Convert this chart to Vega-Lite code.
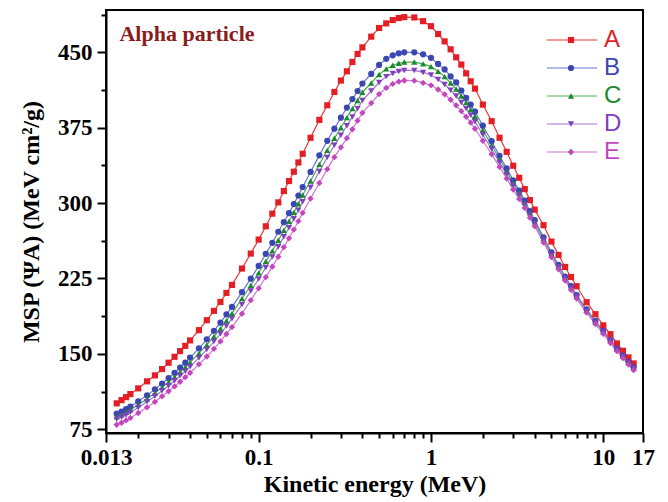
{
"$schema": "https://vega.github.io/schema/vega-lite/v6.json",
"width": 537, "height": 423,
"autosize": {"type": "none"},
"padding": {"left": 106, "top": 10, "right": 25, "bottom": 69},
"background": "white",
"config": {"view": {"stroke": "black", "strokeWidth": 2}, "font": "Liberation Serif",
  "axis": {
      "tickWidth": 2, "tickColor": "black", "domainColor": "black", "domainWidth": 2,
      "labelFont": "Liberation Serif", "labelFontWeight": "bold", "labelFontSize": 23, "labelColor": "black",
      "labelOverlap": false, "labelFlush": false, "grid": false,
      "titleFont": "Liberation Serif", "titleFontSize": 24, "titleFontWeight": "bold", "titleColor": "black"
  }
},
"layer": [
{
"data": {"values": [
{"s":"A","e":0.015,"v":100.8},{"s":"A","e":0.016,"v":104},{"s":"A","e":0.017,"v":107},{"s":"A","e":0.018,"v":110},{"s":"A","e":0.02,"v":115.7},{"s":"A","e":0.0225,"v":122.7},{"s":"A","e":0.025,"v":128.6},{"s":"A","e":0.0275,"v":134.9},{"s":"A","e":0.03,"v":141.2},{"s":"A","e":0.0325,"v":147.1},{"s":"A","e":0.035,"v":152.8},{"s":"A","e":0.0375,"v":158},{"s":"A","e":0.04,"v":163.4},{"s":"A","e":0.045,"v":173.6},{"s":"A","e":0.05,"v":183.5},{"s":"A","e":0.055,"v":192.8},{"s":"A","e":0.06,"v":201.7},{"s":"A","e":0.065,"v":210.6},{"s":"A","e":0.07,"v":218.6},{"s":"A","e":0.08,"v":234.9},{"s":"A","e":0.09,"v":249.8},{"s":"A","e":0.1,"v":263.7},{"s":"A","e":0.11,"v":276.9},{"s":"A","e":0.12,"v":289.5},{"s":"A","e":0.13,"v":300.7},{"s":"A","e":0.14,"v":312},{"s":"A","e":0.15,"v":321.9},{"s":"A","e":0.16,"v":331.2},{"s":"A","e":0.17,"v":340.4},{"s":"A","e":0.18,"v":349.1},{"s":"A","e":0.2,"v":365},{"s":"A","e":0.225,"v":382.8},{"s":"A","e":0.25,"v":397.3},{"s":"A","e":0.275,"v":410.6},{"s":"A","e":0.3,"v":421.9},{"s":"A","e":0.325,"v":431.1},{"s":"A","e":0.35,"v":440.4},{"s":"A","e":0.375,"v":448.4},{"s":"A","e":0.4,"v":454.9},{"s":"A","e":0.45,"v":465.6},{"s":"A","e":0.5,"v":474.2},{"s":"A","e":0.55,"v":478.8},{"s":"A","e":0.6,"v":482.1},{"s":"A","e":0.65,"v":484.1},{"s":"A","e":0.7,"v":485},{"s":"A","e":0.8,"v":484.7},{"s":"A","e":0.9,"v":481},{"s":"A","e":1,"v":476},{"s":"A","e":1.1,"v":468.2},{"s":"A","e":1.2,"v":460.9},{"s":"A","e":1.3,"v":453},{"s":"A","e":1.4,"v":445},{"s":"A","e":1.5,"v":437.8},{"s":"A","e":1.6,"v":429.1},{"s":"A","e":1.7,"v":421.2},{"s":"A","e":1.8,"v":413.9},{"s":"A","e":2,"v":398},{"s":"A","e":2.25,"v":381.5},{"s":"A","e":2.5,"v":365},{"s":"A","e":2.75,"v":351},{"s":"A","e":3,"v":337.2},{"s":"A","e":3.25,"v":325.2},{"s":"A","e":3.5,"v":313.9},{"s":"A","e":3.75,"v":303},{"s":"A","e":4,"v":293.5},{"s":"A","e":4.5,"v":278},{"s":"A","e":5,"v":261.7},{"s":"A","e":5.5,"v":248.4},{"s":"A","e":6,"v":236.5},{"s":"A","e":6.5,"v":226.5},{"s":"A","e":7,"v":217.3},{"s":"A","e":8,"v":201.4},{"s":"A","e":9,"v":189.5},{"s":"A","e":10,"v":178.3},{"s":"A","e":11,"v":169.6},{"s":"A","e":12,"v":160.4},{"s":"A","e":13,"v":153.1},{"s":"A","e":14,"v":146.5},{"s":"A","e":15,"v":140.5},
{"s":"B","e":0.015,"v":90.5},{"s":"B","e":0.016,"v":92.5},{"s":"B","e":0.017,"v":95},{"s":"B","e":0.018,"v":97.5},{"s":"B","e":0.02,"v":102.8},{"s":"B","e":0.0225,"v":108.8},{"s":"B","e":0.025,"v":114.7},{"s":"B","e":0.0275,"v":120.5},{"s":"B","e":0.03,"v":125.9},{"s":"B","e":0.0325,"v":131.2},{"s":"B","e":0.035,"v":136.4},{"s":"B","e":0.0375,"v":141.3},{"s":"B","e":0.04,"v":146.3},{"s":"B","e":0.045,"v":155.5},{"s":"B","e":0.05,"v":164.5},{"s":"B","e":0.055,"v":173},{"s":"B","e":0.06,"v":181},{"s":"B","e":0.065,"v":189.3},{"s":"B","e":0.07,"v":196.7},{"s":"B","e":0.08,"v":211.4},{"s":"B","e":0.09,"v":224.8},{"s":"B","e":0.1,"v":237.5},{"s":"B","e":0.11,"v":249.5},{"s":"B","e":0.12,"v":260.5},{"s":"B","e":0.13,"v":271.5},{"s":"B","e":0.14,"v":281},{"s":"B","e":0.15,"v":290},{"s":"B","e":0.16,"v":299},{"s":"B","e":0.17,"v":307.5},{"s":"B","e":0.18,"v":316},{"s":"B","e":0.2,"v":331},{"s":"B","e":0.225,"v":347.5},{"s":"B","e":0.25,"v":362},{"s":"B","e":0.275,"v":374},{"s":"B","e":0.3,"v":385},{"s":"B","e":0.325,"v":395},{"s":"B","e":0.35,"v":403.5},{"s":"B","e":0.375,"v":411.5},{"s":"B","e":0.4,"v":419},{"s":"B","e":0.45,"v":428.5},{"s":"B","e":0.5,"v":437.5},{"s":"B","e":0.55,"v":443.5},{"s":"B","e":0.6,"v":447},{"s":"B","e":0.65,"v":449},{"s":"B","e":0.7,"v":450},{"s":"B","e":0.8,"v":450},{"s":"B","e":0.9,"v":448},{"s":"B","e":1,"v":444.5},{"s":"B","e":1.1,"v":438.5},{"s":"B","e":1.2,"v":433},{"s":"B","e":1.3,"v":426},{"s":"B","e":1.4,"v":420},{"s":"B","e":1.5,"v":412},{"s":"B","e":1.6,"v":404.7},{"s":"B","e":1.7,"v":398},{"s":"B","e":1.8,"v":391},{"s":"B","e":2,"v":377},{"s":"B","e":2.25,"v":361.6},{"s":"B","e":2.5,"v":347},{"s":"B","e":2.75,"v":334.5},{"s":"B","e":3,"v":322.6},{"s":"B","e":3.25,"v":312.5},{"s":"B","e":3.5,"v":302.5},{"s":"B","e":3.75,"v":292},{"s":"B","e":4,"v":283},{"s":"B","e":4.5,"v":266},{"s":"B","e":5,"v":251},{"s":"B","e":5.5,"v":238.5},{"s":"B","e":6,"v":227},{"s":"B","e":6.5,"v":217.5},{"s":"B","e":7,"v":208.5},{"s":"B","e":8,"v":194.2},{"s":"B","e":9,"v":182.8},{"s":"B","e":10,"v":172.9},{"s":"B","e":11,"v":163.7},{"s":"B","e":12,"v":155.4},{"s":"B","e":13,"v":148.5},{"s":"B","e":14,"v":142.1},{"s":"B","e":15,"v":136.6},
{"s":"C","e":0.015,"v":87.5},{"s":"C","e":0.016,"v":89.5},{"s":"C","e":0.017,"v":92},{"s":"C","e":0.018,"v":94.5},{"s":"C","e":0.02,"v":99.5},{"s":"C","e":0.0225,"v":105.3},{"s":"C","e":0.025,"v":111},{"s":"C","e":0.0275,"v":116.7},{"s":"C","e":0.03,"v":121.8},{"s":"C","e":0.0325,"v":127},{"s":"C","e":0.035,"v":132},{"s":"C","e":0.0375,"v":136.8},{"s":"C","e":0.04,"v":141.5},{"s":"C","e":0.045,"v":150.5},{"s":"C","e":0.05,"v":159},{"s":"C","e":0.055,"v":167.3},{"s":"C","e":0.06,"v":175},{"s":"C","e":0.065,"v":183},{"s":"C","e":0.07,"v":190.3},{"s":"C","e":0.08,"v":205},{"s":"C","e":0.09,"v":218.3},{"s":"C","e":0.1,"v":230.6},{"s":"C","e":0.11,"v":242},{"s":"C","e":0.12,"v":252.5},{"s":"C","e":0.13,"v":263},{"s":"C","e":0.14,"v":272.9},{"s":"C","e":0.15,"v":282},{"s":"C","e":0.16,"v":290.8},{"s":"C","e":0.17,"v":299.4},{"s":"C","e":0.18,"v":308},{"s":"C","e":0.2,"v":322},{"s":"C","e":0.225,"v":338.5},{"s":"C","e":0.25,"v":352.5},{"s":"C","e":0.275,"v":364.5},{"s":"C","e":0.3,"v":375},{"s":"C","e":0.325,"v":385},{"s":"C","e":0.35,"v":394},{"s":"C","e":0.375,"v":402},{"s":"C","e":0.4,"v":410.3},{"s":"C","e":0.45,"v":419.5},{"s":"C","e":0.5,"v":428},{"s":"C","e":0.55,"v":433.5},{"s":"C","e":0.6,"v":437.1},{"s":"C","e":0.65,"v":439.1},{"s":"C","e":0.7,"v":440.3},{"s":"C","e":0.8,"v":440.3},{"s":"C","e":0.9,"v":438.5},{"s":"C","e":1,"v":435.8},{"s":"C","e":1.1,"v":431},{"s":"C","e":1.2,"v":425.8},{"s":"C","e":1.3,"v":419.5},{"s":"C","e":1.4,"v":413.5},{"s":"C","e":1.5,"v":406.5},{"s":"C","e":1.6,"v":400},{"s":"C","e":1.7,"v":393},{"s":"C","e":1.8,"v":386.3},{"s":"C","e":2,"v":372.5},{"s":"C","e":2.25,"v":357.6},{"s":"C","e":2.5,"v":343.8},{"s":"C","e":2.75,"v":331.5},{"s":"C","e":3,"v":320},{"s":"C","e":3.25,"v":310.2},{"s":"C","e":3.5,"v":300.5},{"s":"C","e":3.75,"v":290.3},{"s":"C","e":4,"v":281.5},{"s":"C","e":4.5,"v":264.8},{"s":"C","e":5,"v":249.8},{"s":"C","e":5.5,"v":237.5},{"s":"C","e":6,"v":226.1},{"s":"C","e":6.5,"v":216.5},{"s":"C","e":7,"v":207.7},{"s":"C","e":8,"v":193.5},{"s":"C","e":9,"v":182.2},{"s":"C","e":10,"v":172.3},{"s":"C","e":11,"v":163.2},{"s":"C","e":12,"v":155},{"s":"C","e":13,"v":148},{"s":"C","e":14,"v":141.7},{"s":"C","e":15,"v":136.2},
{"s":"D","e":0.015,"v":85},{"s":"D","e":0.016,"v":87},{"s":"D","e":0.017,"v":89.3},{"s":"D","e":0.018,"v":91.8},{"s":"D","e":0.02,"v":96.7},{"s":"D","e":0.0225,"v":102.3},{"s":"D","e":0.025,"v":107.8},{"s":"D","e":0.0275,"v":113.3},{"s":"D","e":0.03,"v":118.3},{"s":"D","e":0.0325,"v":123.3},{"s":"D","e":0.035,"v":128.2},{"s":"D","e":0.0375,"v":132.8},{"s":"D","e":0.04,"v":137.3},{"s":"D","e":0.045,"v":146},{"s":"D","e":0.05,"v":154.3},{"s":"D","e":0.055,"v":162.3},{"s":"D","e":0.06,"v":170},{"s":"D","e":0.065,"v":177.8},{"s":"D","e":0.07,"v":185},{"s":"D","e":0.08,"v":199},{"s":"D","e":0.09,"v":212.6},{"s":"D","e":0.1,"v":224.5},{"s":"D","e":0.11,"v":236},{"s":"D","e":0.12,"v":246.5},{"s":"D","e":0.13,"v":256.5},{"s":"D","e":0.14,"v":266.5},{"s":"D","e":0.15,"v":275.5},{"s":"D","e":0.16,"v":284.5},{"s":"D","e":0.17,"v":293},{"s":"D","e":0.18,"v":301.3},{"s":"D","e":0.2,"v":315.5},{"s":"D","e":0.225,"v":331.5},{"s":"D","e":0.25,"v":345.5},{"s":"D","e":0.275,"v":357.5},{"s":"D","e":0.3,"v":367.5},{"s":"D","e":0.325,"v":377},{"s":"D","e":0.35,"v":385.8},{"s":"D","e":0.375,"v":394},{"s":"D","e":0.4,"v":402},{"s":"D","e":0.45,"v":411.5},{"s":"D","e":0.5,"v":420},{"s":"D","e":0.55,"v":425.8},{"s":"D","e":0.6,"v":429},{"s":"D","e":0.65,"v":431},{"s":"D","e":0.7,"v":432},{"s":"D","e":0.8,"v":432},{"s":"D","e":0.9,"v":430},{"s":"D","e":1,"v":427.5},{"s":"D","e":1.1,"v":423},{"s":"D","e":1.2,"v":418},{"s":"D","e":1.3,"v":412.3},{"s":"D","e":1.4,"v":406.5},{"s":"D","e":1.5,"v":400},{"s":"D","e":1.6,"v":394},{"s":"D","e":1.7,"v":387.5},{"s":"D","e":1.8,"v":381},{"s":"D","e":2,"v":368},{"s":"D","e":2.25,"v":353.8},{"s":"D","e":2.5,"v":340.5},{"s":"D","e":2.75,"v":328.5},{"s":"D","e":3,"v":317.3},{"s":"D","e":3.25,"v":307.7},{"s":"D","e":3.5,"v":298.3},{"s":"D","e":3.75,"v":288.3},{"s":"D","e":4,"v":279.7},{"s":"D","e":4.5,"v":263.3},{"s":"D","e":5,"v":248.6},{"s":"D","e":5.5,"v":236.4},{"s":"D","e":6,"v":225.2},{"s":"D","e":6.5,"v":215.7},{"s":"D","e":7,"v":207},{"s":"D","e":8,"v":192.9},{"s":"D","e":9,"v":181.6},{"s":"D","e":10,"v":171.8},{"s":"D","e":11,"v":162.7},{"s":"D","e":12,"v":154.6},{"s":"D","e":13,"v":147.6},{"s":"D","e":14,"v":141.3},{"s":"D","e":15,"v":135.8},
{"s":"E","e":0.015,"v":79.5},{"s":"E","e":0.016,"v":81.5},{"s":"E","e":0.017,"v":83.8},{"s":"E","e":0.018,"v":86.3},{"s":"E","e":0.02,"v":91.2},{"s":"E","e":0.0225,"v":96.8},{"s":"E","e":0.025,"v":102.3},{"s":"E","e":0.0275,"v":107.8},{"s":"E","e":0.03,"v":112.8},{"s":"E","e":0.0325,"v":117.6},{"s":"E","e":0.035,"v":122.3},{"s":"E","e":0.0375,"v":126.8},{"s":"E","e":0.04,"v":131.2},{"s":"E","e":0.045,"v":139.6},{"s":"E","e":0.05,"v":147.4},{"s":"E","e":0.055,"v":155},{"s":"E","e":0.06,"v":162.4},{"s":"E","e":0.065,"v":169.8},{"s":"E","e":0.07,"v":176.7},{"s":"E","e":0.08,"v":190},{"s":"E","e":0.09,"v":203.4},{"s":"E","e":0.1,"v":215.3},{"s":"E","e":0.11,"v":226.3},{"s":"E","e":0.12,"v":236.8},{"s":"E","e":0.13,"v":246.6},{"s":"E","e":0.14,"v":256.2},{"s":"E","e":0.15,"v":265},{"s":"E","e":0.16,"v":273.7},{"s":"E","e":0.17,"v":282},{"s":"E","e":0.18,"v":290.3},{"s":"E","e":0.2,"v":304.5},{"s":"E","e":0.225,"v":320},{"s":"E","e":0.25,"v":333.8},{"s":"E","e":0.275,"v":345.7},{"s":"E","e":0.3,"v":355.5},{"s":"E","e":0.325,"v":364.6},{"s":"E","e":0.35,"v":373.5},{"s":"E","e":0.375,"v":382},{"s":"E","e":0.4,"v":389.8},{"s":"E","e":0.45,"v":399.5},{"s":"E","e":0.5,"v":408.5},{"s":"E","e":0.55,"v":414.6},{"s":"E","e":0.6,"v":418.6},{"s":"E","e":0.65,"v":420.8},{"s":"E","e":0.7,"v":422},{"s":"E","e":0.8,"v":421.8},{"s":"E","e":0.9,"v":419.6},{"s":"E","e":1,"v":417.2},{"s":"E","e":1.1,"v":413},{"s":"E","e":1.2,"v":408.2},{"s":"E","e":1.3,"v":402.8},{"s":"E","e":1.4,"v":397.3},{"s":"E","e":1.5,"v":391.5},{"s":"E","e":1.6,"v":385.8},{"s":"E","e":1.7,"v":380},{"s":"E","e":1.8,"v":374},{"s":"E","e":2,"v":362},{"s":"E","e":2.25,"v":348.6},{"s":"E","e":2.5,"v":336},{"s":"E","e":2.75,"v":324.4},{"s":"E","e":3,"v":313.5},{"s":"E","e":3.25,"v":304.2},{"s":"E","e":3.5,"v":295.2},{"s":"E","e":3.75,"v":285.5},{"s":"E","e":4,"v":277},{"s":"E","e":4.5,"v":260.8},{"s":"E","e":5,"v":246.2},{"s":"E","e":5.5,"v":234.1},{"s":"E","e":6,"v":223},{"s":"E","e":6.5,"v":213.6},{"s":"E","e":7,"v":205},{"s":"E","e":8,"v":191},{"s":"E","e":9,"v":179.7},{"s":"E","e":10,"v":169.9},{"s":"E","e":11,"v":160.8},{"s":"E","e":12,"v":152.7},{"s":"E","e":13,"v":145.7},{"s":"E","e":14,"v":139.4},{"s":"E","e":15,"v":133.8}
]},
"encoding": {
  "x": {"field": "e", "type": "quantitative",
    "scale": {"type": "log", "domain": [0.013, 17], "nice": false},
    "axis": {"title": "Kinetic energy (MeV)",
      "values": [0.013,0.02,0.03,0.04,0.05,0.06,0.07,0.08,0.09,0.1,0.2,0.3,0.4,0.5,0.6,0.7,0.8,0.9,1,2,3,4,5,6,7,8,9,10,17],
      "format": "~g",
      "labelExpr": "indexof([0.013,0.1,1,10,17], datum.value) >= 0 ? datum.label : ''",
      "tickSize": {"condition": {"test": "indexof([0.013,0.1,1,10,17], datum.value) >= 0", "value": 9}, "value": 5},
      "labelPadding": 4, "titlePadding": 3}},
  "y": {"field": "v", "type": "quantitative",
    "scale": {"domain": [71.3, 492.1], "nice": false, "zero": false},
    "axis": {"title": "MSP (ΨA) (MeV cm²/g)",
      "values": [75,112.5,150,187.5,225,262.5,300,337.5,375,412.5,450,487.5],
      "format": "d",
      "labelExpr": "datum.value % 75 == 0 ? datum.label : ''",
      "tickSize": {"condition": {"test": "datum.value % 75 == 0", "value": 9}, "value": 5},
      "labelPadding": 5, "titlePadding": 14}}
},
"layer": [
  {"mark": {"type": "line", "strokeWidth": 1.2},
   "encoding": {"color": {"field": "s", "type": "nominal",
     "scale": {"domain": ["A","B","C","D","E"], "range": ["#e8383a","#6b74cf","#4aae52","#a274d6","#d174cf"]},
     "legend": {"orient": "none", "legendX": 454, "legendY": 18, "title": null, "symbolType": "M-5,0H5", "symbolSize": 100, "symbolStrokeWidth": 1.2, "labelOpacity": 0, "labelFont": "Liberation Sans", "labelFontSize": 24, "rowPadding": 4, "padding": 0}}}},
  {"mark": {"type": "point", "filled": true, "opacity": 1},
   "encoding": {
     "size": {"field": "s", "type": "nominal", "scale": {"domain": ["A","B","C","D","E"], "range": [38, 40, 55, 55, 50]}, "legend": null},
     "color": {"field": "s", "type": "nominal",
       "scale": {"domain": ["A","B","C","D","E"], "range": ["#e31e24","#3b46b4","#1b8a2d","#7f3fbf","#c246be"]},
       "legend": {"orient": "none", "legendX": 453, "legendY": 18, "title": null, "symbolSize": 45, "labelFont": "Liberation Sans", "labelFontSize": 24, "rowPadding": 4, "padding": 0, "labelOffset": 21,
         "labelColor": {"expr": "datum.value === 'A' ? '#e31e24' : datum.value === 'B' ? '#3b46b4' : datum.value === 'C' ? '#1b8a2d' : datum.value === 'D' ? '#7f3fbf' : '#c246be'"}}},
     "shape": {"field": "s", "type": "nominal",
       "scale": {"domain": ["A","B","C","D","E"], "range": ["square","circle","triangle-up","triangle-down","diamond"]},
       "legend": {"orient": "none", "legendX": 453, "legendY": 18, "title": null, "symbolSize": 45, "labelFont": "Liberation Sans", "labelFontSize": 24, "rowPadding": 4, "padding": 0, "labelOffset": 21,
         "labelColor": {"expr": "datum.value === 'A' ? '#e31e24' : datum.value === 'B' ? '#3b46b4' : datum.value === 'C' ? '#1b8a2d' : datum.value === 'D' ? '#7f3fbf' : '#c246be'"}}}
   }}
],
"resolve": {"scale": {"color": "independent", "shape": "independent", "size": "independent"}, "legend": {"color": "independent", "shape": "independent"}}
},
{"data": {"values": [{"t": "Alpha particle"}]},
 "mark": {"type": "text", "align": "left", "baseline": "alphabetic", "font": "Liberation Serif", "fontWeight": "bold", "fontSize": 22, "fill": "#8b1c1c"},
 "encoding": {
   "x": {"datum": 0.01556, "type": "quantitative", "scale": {"type": "log", "domain": [0.013, 17], "nice": false},
    "axis": {"title": "Kinetic energy (MeV)",
      "values": [0.013,0.02,0.03,0.04,0.05,0.06,0.07,0.08,0.09,0.1,0.2,0.3,0.4,0.5,0.6,0.7,0.8,0.9,1,2,3,4,5,6,7,8,9,10,17],
      "format": "~g",
      "labelExpr": "indexof([0.013,0.1,1,10,17], datum.value) >= 0 ? datum.label : ''",
      "tickSize": {"condition": {"test": "indexof([0.013,0.1,1,10,17], datum.value) >= 0", "value": 9}, "value": 5},
      "labelPadding": 4, "titlePadding": 3}},
   "y": {"datum": 461, "type": "quantitative", "scale": {"domain": [71.3, 492.1], "nice": false, "zero": false},
    "axis": {"title": "MSP (ΨA) (MeV cm²/g)",
      "values": [75,112.5,150,187.5,225,262.5,300,337.5,375,412.5,450,487.5],
      "format": "d",
      "labelExpr": "datum.value % 75 == 0 ? datum.label : ''",
      "tickSize": {"condition": {"test": "datum.value % 75 == 0", "value": 9}, "value": 5},
      "labelPadding": 5, "titlePadding": 14}},
   "text": {"field": "t"}}}
]
}
